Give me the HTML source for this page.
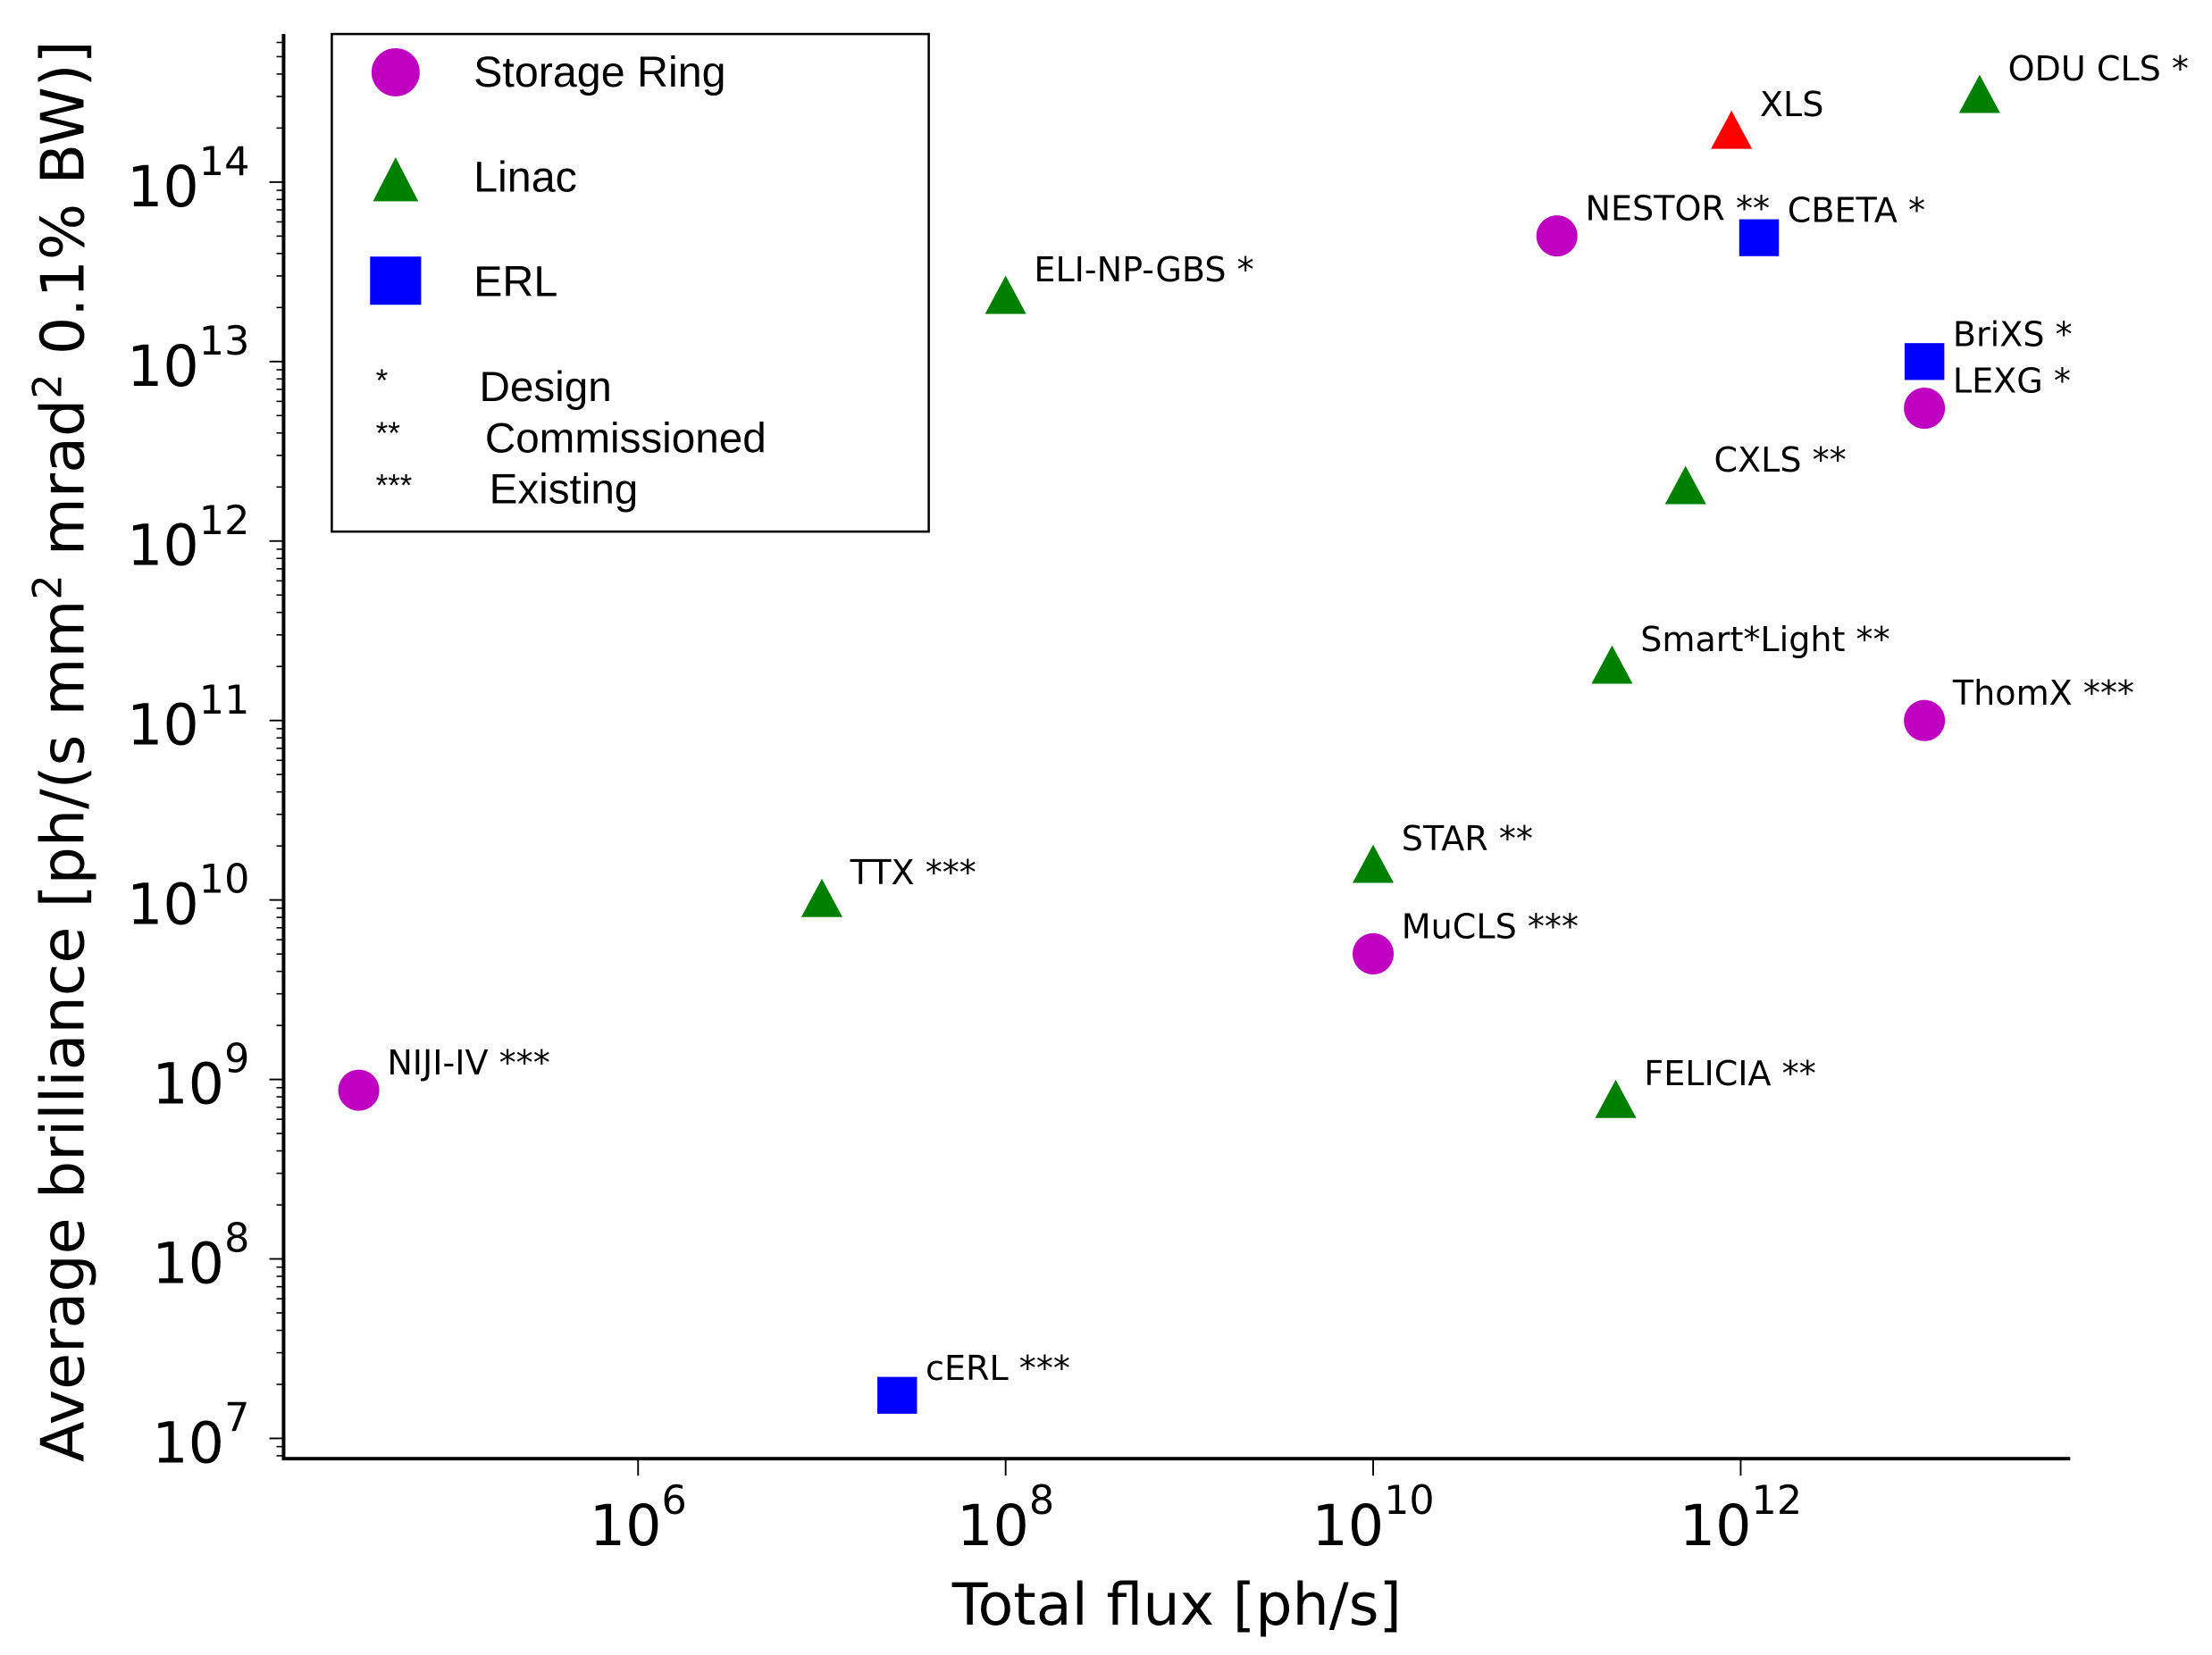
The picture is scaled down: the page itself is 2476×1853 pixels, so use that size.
<!DOCTYPE html>
<html><head><meta charset="utf-8"><style>
html,body{margin:0;padding:0;background:#fff}
svg{display:block}
</style></head><body>
<svg id="chart" xmlns="http://www.w3.org/2000/svg" width="2476" height="1853" viewBox="0 0 1560 1167.5">
<g id="axes"></g>
<g id="marks"></g>
<g id="legend">
<rect x="234" y="24" width="421" height="351" fill="#fff" stroke="#000" stroke-width="1.6"/>
<ellipse cx="279" cy="51" rx="17" ry="17" fill="#c000c0"/>
<text x="334" y="61" font-family="Liberation Sans, sans-serif" font-size="30.5">Storage Ring</text>
<polygon points="279,111 263,142 295,142" fill="#008000"/>
<text x="334" y="135" font-family="Liberation Sans, sans-serif" font-size="30.5">Linac</text>
<rect x="261" y="181" width="36" height="34" fill="#0000ff"/>
<text x="334" y="209" font-family="Liberation Sans, sans-serif" font-size="30.5">ERL</text>
<text x="265" y="276" font-family="Liberation Sans, sans-serif" font-size="22">*</text>
<text x="338" y="283" font-family="Liberation Sans, sans-serif" font-size="30">Design</text>
<text x="265" y="313" font-family="Liberation Sans, sans-serif" font-size="22">**</text>
<text x="342" y="319" font-family="Liberation Sans, sans-serif" font-size="30">Commissioned</text>
<text x="265" y="350" font-family="Liberation Sans, sans-serif" font-size="22">***</text>
<text x="345" y="355" font-family="Liberation Sans, sans-serif" font-size="30">Existing</text>
</g>
</svg>
<script>
const names = ["NIJI-IV ***","TTX ***","cERL ***","ELI-NP-GBS *","STAR **","MuCLS ***","FELICIA **","Smart*Light **","CXLS **","NESTOR **","XLS","CBETA *","BriXS *","LEXG *","ThomX ***","ODU CLS *"];
const types = ["ring","linac","erl","linac","linac","ring","linac","linac","linac","ring","xls","erl","erl","ring","ring","linac"];
const logFlux = [4.48,7.0,7.41,8.0,10.0,10.0,11.32,11.3,11.7,11.0,11.95,12.1,13.0,13.0,13.0,13.3];
const logBrill = [8.94,10.0,7.24,13.36,10.19,9.7,8.88,11.3,12.3,13.7,14.28,13.69,13.0,12.74,11.0,14.48];
const xTickExps = [6,8,10,12];
const yTickExps = [7,8,9,10,11,12,13,14];

const NS="http://www.w3.org/2000/svg";
const X0=200,X1=1460,Y0=1029,Y1=24;
const xLo=4.071,xHi=13.793,yLo=6.887,yHi=14.825;
function xs(v){return X0+(v-xLo)/(xHi-xLo)*(X1-X0);}
function ys(v){return Y0-(v-yLo)/(yHi-yLo)*(Y0-Y1);}
function mk(tag,attrs,parent){const e=document.createElementNS(NS,tag);for(const k in attrs)e.setAttribute(k,attrs[k]);parent.appendChild(e);return e;}
const axes=document.getElementById('axes'), marks=document.getElementById('marks');
const font="DejaVu Sans, sans-serif";

let l=mk('line',{x1:X0,y1:Y1,x2:X0,y2:Y0+1,stroke:'#000','stroke-width':2.5},axes);


l=mk('line',{x1:X0-1,y1:Y0,x2:X1,y2:Y0,stroke:'#000','stroke-width':2.5},axes);



xTickExps.forEach(e=>{
  const x=xs(e);
  const t=mk('line',{x1:x,y1:Y0,x2:x,y2:Y0+12,stroke:'#000','stroke-width':1.2},axes);
  
  
  const tx=mk('text',{x:x,y:1090,'font-family':font,'font-size':40,'text-anchor':'middle'},axes);
  
  
  tx.innerHTML='10<tspan dy="-22" font-size="28">'+e+'</tspan>';
});
yTickExps.forEach(e=>{
  const y=ys(e);
  const t=mk('line',{x1:X0-10,y1:y,x2:X0,y2:y,stroke:'#000','stroke-width':1.2},axes);
  
  
  const tx=mk('text',{x:176,y:y+17,'font-family':font,'font-size':40,'text-anchor':'end'},axes);
  
  
  tx.innerHTML='10<tspan dy="-22" font-size="28">'+e+'</tspan>';
});
for(let e=6;e<=14;e++){for(let m=2;m<=9;m++){const v=e+Math.log10(m);if(v<yLo||v>yHi)continue;
  const t=mk('line',{x1:X0-5,y1:ys(v),x2:X0,y2:ys(v),stroke:'#000','stroke-width':1},axes);
  
  
}}
let tt=mk('text',{x:830,y:1146,'font-family':font,'font-size':41,'text-anchor':'middle'},axes);


tt.textContent='Total flux [ph/s]';
tt=mk('text',{x:0,y:0,'font-family':font,'font-size':42,'text-anchor':'middle',transform:'translate(59,530) rotate(-90)'},axes);


tt.innerHTML='Average brilliance [ph/(s mm<tspan dy="-16" font-size="28">2</tspan><tspan dy="16"> mrad</tspan><tspan dy="-16" font-size="28">2</tspan><tspan dy="16"> 0.1% BW)]</tspan>';

const colors={ring:'#c000c0',linac:'#008000',erl:'#0000ff',xls:'#ff0000'};
names.forEach((n,i)=>{
  const x=xs(logFlux[i]),y=ys(logBrill[i]),ty=types[i];let m;
  if(ty==='ring'){m=mk('circle',{cx:x,cy:y,r:14.5,fill:colors.ring},marks);}
  else if(ty==='erl'){m=mk('rect',{x:x-14,y:y-13,width:28,height:26,fill:colors.erl},marks);}
  else{m=mk('polygon',{points:(x)+','+(y-15)+' '+(x-14.5)+','+(y+12)+' '+(x+14.5)+','+(y+12),fill:colors[ty]},marks);}
  
  
  const t=mk('text',{x:x+20,y:y-11,'font-family':font,'font-size':24},marks);
  
  
  t.textContent=n;
});
</script>
</body></html>
